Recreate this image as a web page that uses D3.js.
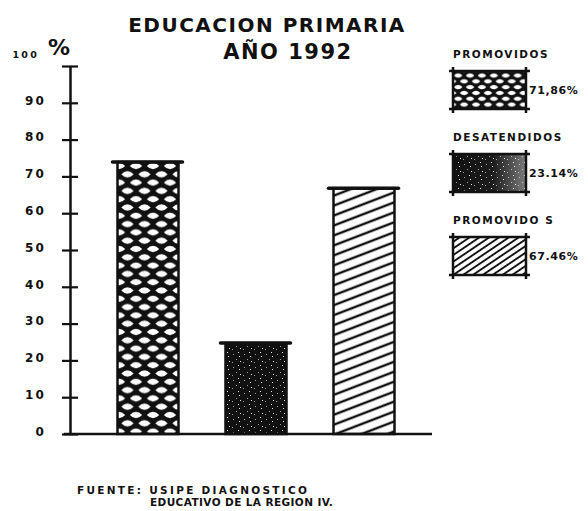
<!DOCTYPE html>
<html>
<head>
<meta charset="utf-8">
<script src="https://cdn.jsdelivr.net/npm/d3@7"></script>
<style>
  body { margin: 0; background: #fff; }
  text { font-family: "DejaVu Sans", sans-serif; font-weight: bold; fill: #111; }
</style>
</head>
<body>
<div id="chart"></div>
<script>
var categories = ["PROMOVIDOS", "DESATENDIDOS", "PROMOVIDO S"];
var values = [73.9, 24.7, 66.8];
var legendPct = ["71,86%", "23.14%", "67.46%"];
var yTicks = [0, 10, 20, 30, 40, 50, 60, 70, 80, 90, 100];
var tickLabels = ["0", "10", "20", "30", "40", "50", "60", "70", "80", "90", "100"];
var title = ["EDUCACION PRIMARIA", "AÑO 1992"];
var source = ["FUENTE: USIPE DIAGNOSTICO", "EDUCATIVO DE LA REGION IV."];

var W = 588, H = 511, ink = "#111";

var svg = d3.select("#chart").append("svg")
  .attr("width", W).attr("height", H);

svg.append("rect").attr("width", W).attr("height", H).attr("fill", "#fff");

// ---- patterns
var defs = svg.append("defs");

function cross(id, s) {
  var pw = 17, ph = 16.6, a = 6.2, b = 5.6;
  var p = defs.append("pattern").attr("id", id)
    .attr("patternUnits", "userSpaceOnUse")
    .attr("width", pw).attr("height", ph)
    .attr("patternTransform", "scale(" + s + ")");
  p.append("rect").attr("width", pw).attr("height", ph).attr("fill", ink);
  [[0, 0], [pw, 0], [0, ph], [pw, ph], [pw / 2, ph / 2]].forEach(function(c) {
    p.append("path")
      .attr("d", "M" + (c[0] - a) + "," + c[1] +
                 "Q" + c[0] + "," + (c[1] - b * 1.15) + " " + (c[0] + a) + "," + c[1] +
                 "Q" + c[0] + "," + (c[1] + b * 1.15) + " " + (c[0] - a) + "," + c[1] + "Z")
      .attr("fill", "#fff");
  });
}
cross("cross", 1);
cross("crossSmall", 0.7);

var st = defs.append("pattern").attr("id", "stipple")
  .attr("patternUnits", "userSpaceOnUse").attr("width", 11).attr("height", 13);
st.append("rect").attr("width", 11).attr("height", 13).attr("fill", ink);
[[2, 3], [7, 1], [5, 8], [9, 10], [1, 11], [8, 5]].forEach(function(c, i) {
  st.append("rect").attr("x", c[0]).attr("y", c[1]).attr("width", 1).attr("height", 1)
    .attr("fill", "#fff").attr("opacity", i % 2 ? 0.9 : 0.6);
});

var fade = defs.append("linearGradient").attr("id", "fade");
fade.append("stop").attr("offset", "0%").attr("stop-color", "#fff").attr("stop-opacity", 0);
fade.append("stop").attr("offset", "55%").attr("stop-color", "#fff").attr("stop-opacity", 0.05);
fade.append("stop").attr("offset", "100%").attr("stop-color", "#fff").attr("stop-opacity", 0.45);

function hatch(id, gap, ang, sw) {
  var p = defs.append("pattern").attr("id", id)
    .attr("patternUnits", "userSpaceOnUse")
    .attr("width", 10).attr("height", gap)
    .attr("patternTransform", "rotate(" + ang + ")");
  p.append("rect").attr("width", 10).attr("height", gap).attr("fill", "#fff");
  p.append("line").attr("x1", 0).attr("x2", 10)
    .attr("y1", gap / 2).attr("y2", gap / 2)
    .attr("stroke", ink).attr("stroke-width", sw);
}
hatch("hatch", 9.3, -21, 2.4);
hatch("hatchSmall", 5.5, -34, 1.9);

var fills = ["url(#cross)", "url(#stipple)", "url(#hatch)"];
var legendFills = ["url(#crossSmall)", "url(#stipple)", "url(#hatchSmall)"];

// ---- scales
var y = d3.scaleLinear().domain([0, 100]).range([434, 66]);
var x = d3.scaleBand().domain(categories).range([94, 418])
  .paddingInner(0.435).paddingOuter(0.2175);

// ---- title
svg.append("text").attr("x", 267).attr("y", 32)
  .attr("text-anchor", "middle").attr("font-size", 20)
  .attr("letter-spacing", 1.5).text(title[0]);
svg.append("text").attr("x", 288).attr("y", 59)
  .attr("text-anchor", "middle").attr("font-size", 21)
  .attr("letter-spacing", 1.5).text(title[1]);

// ---- y axis
var ax = svg.append("g")
  .attr("transform", "translate(70,0)")
  .call(d3.axisLeft(y).tickValues(yTicks)
    .tickFormat(function(d, i) { return tickLabels[i]; })
    .tickSize(0).tickPadding(25));

ax.select(".domain").attr("stroke", ink).attr("stroke-width", 2.5);
ax.selectAll(".tick line").attr("x1", -8).attr("x2", 8)
  .attr("stroke", ink).attr("stroke-width", 2.2);
ax.selectAll(".tick text")
  .style("font-family", "'DejaVu Sans', sans-serif")
  .attr("font-weight", "bold")
  .attr("font-size", function(d) { return d == 100 ? 9.5 : 12; })
  .attr("letter-spacing", 2.2)
  .attr("dy", function(d) { return d == 100 ? "-0.9em" : "0.1em"; })
  .attr("x", function(d) { return d == 100 ? -31 : -24; })
  .attr("fill", ink);

svg.append("text").attr("x", 59).attr("y", 55)
  .attr("text-anchor", "middle").attr("font-size", 22).text("%");

// ---- bars
var bars = svg.selectAll(".bar")
  .data(values)
  .enter().append("g").attr("class", "bar");

bars.append("rect")
  .attr("x", function(d, i) { return x(categories[i]); })
  .attr("y", function(d) { return y(d); })
  .attr("width", x.bandwidth())
  .attr("height", function(d) { return y(0) - y(d); })
  .attr("fill", function(d, i) { return fills[i]; })
  .attr("stroke", ink).attr("stroke-width", 2.5);

bars.append("line")
  .attr("x1", function(d, i) { return x(categories[i]) - 5; })
  .attr("x2", function(d, i) { return x(categories[i]) + x.bandwidth() + 4; })
  .attr("y1", function(d) { return y(d); })
  .attr("y2", function(d) { return y(d); })
  .attr("stroke", ink).attr("stroke-width", 3.5).attr("stroke-linecap", "round");

// baseline
svg.append("line").attr("x1", 64).attr("x2", 432)
  .attr("y1", y(0)).attr("y2", y(0))
  .attr("stroke", ink).attr("stroke-width", 2.5);

// ---- legend
var boxX = 453, boxW = 73, boxH = 38;
var legend = svg.selectAll(".legend")
  .data(categories)
  .enter().append("g").attr("class", "legend")
  .attr("transform", function(d, i) { return "translate(0," + (i * 83) + ")"; });

legend.append("text").attr("x", boxX).attr("y", 58)
  .attr("font-size", 10.5).attr("letter-spacing", 1.5)
  .text(function(d) { return d; });

legend.append("rect").attr("x", boxX).attr("y", 71)
  .attr("width", boxW).attr("height", boxH)
  .attr("fill", function(d, i) { return legendFills[i]; });

legend.filter(function(d, i) { return i == 1; })
  .append("rect").attr("x", boxX).attr("y", 71)
  .attr("width", boxW).attr("height", boxH).attr("fill", "url(#fade)");

legend.each(function() {
  var g = d3.select(this), e = 4;
  [[boxX - e, 71, boxX + boxW + e, 71],
   [boxX - e, 71 + boxH, boxX + boxW + e, 71 + boxH],
   [boxX, 71 - e, boxX, 71 + boxH + e],
   [boxX + boxW, 71 - e, boxX + boxW, 71 + boxH + e]].forEach(function(l) {
    g.append("line").attr("x1", l[0]).attr("y1", l[1]).attr("x2", l[2]).attr("y2", l[3])
      .attr("stroke", ink).attr("stroke-width", 2.5);
  });
});

legend.append("text").attr("x", boxX + boxW + 3).attr("y", 94)
  .attr("font-size", 11).attr("letter-spacing", 0.6)
  .text(function(d, i) { return legendPct[i]; });

// ---- source
svg.append("text").attr("x", 77).attr("y", 494)
  .attr("font-size", 10.5).attr("letter-spacing", 2.3).text(source[0]);
svg.append("text").attr("x", 150).attr("y", 506)
  .attr("font-size", 10.5).attr("letter-spacing", 0.4).text(source[1]);
</script>
</body>
</html>
